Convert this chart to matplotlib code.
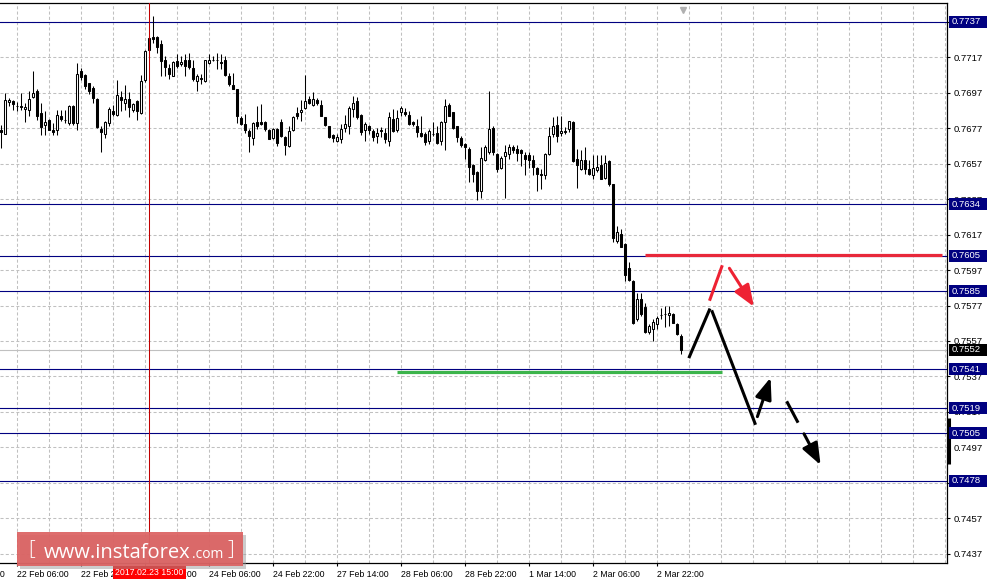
"""AUD/USD H1 chart with levels and forecast arrows."""
import numpy as np
import matplotlib
matplotlib.use('Agg')
from matplotlib import pyplot as plt
from matplotlib.patches import Rectangle
from matplotlib.transforms import blended_transform_factory

# H1 candles, prices in pips (price * 10000)
opens = [7676.2, 7673.8, 7691.9, 7692.3, 7689.5, 7689.5, 7687.9, 7687.6, 7694.7, 7698.3,
         7685.7, 7678.7, 7681.9, 7676.2, 7676.2, 7684.2, 7681.9, 7680.0, 7689.8, 7680.0,
         7709.1, 7706.8, 7702.3, 7700.0, 7693.8, 7676.8, 7673.6, 7680.0, 7686.6, 7684.7,
         7694.8, 7691.4, 7693.4, 7687.3, 7692.6, 7685.5, 7704.0, 7721.1, 7728.6, 7728.6,
         7724.3, 7715.8, 7711.1, 7706.5, 7714.9, 7713.0, 7715.5, 7715.8, 7711.1, 7703.6,
         7705.1, 7703.6, 7714.0, 7715.3, 7715.8, 7714.3, 7715.5, 7706.5, 7701.2, 7699.0,
         7683.0, 7679.3, 7675.5, 7671.7, 7680.6, 7680.6, 7680.8, 7676.1, 7671.7, 7676.4,
         7680.8, 7671.9, 7667.2, 7676.2, 7685.5, 7686.1, 7688.3, 7693.6, 7690.2, 7692.7,
         7690.2, 7683.2, 7678.1, 7673.2, 7670.0, 7671.0, 7677.0, 7678.5, 7687.9, 7692.5,
         7684.5, 7676.2, 7678.1, 7675.7, 7672.8, 7676.2, 7674.4, 7670.0, 7682.3, 7676.2,
         7686.4, 7686.4, 7684.5, 7680.4, 7678.5, 7674.4, 7673.8, 7670.1, 7673.8, 7674.4,
         7670.1, 7680.4, 7690.1, 7686.0, 7678.1, 7671.4, 7668.2, 7665.4, 7656.4, 7652.3,
         7641.5, 7658.9, 7663.5, 7677.0, 7662.6, 7654.6, 7661.3, 7662.6, 7666.3, 7665.4,
         7664.5, 7661.7, 7661.7, 7658.9, 7654.6, 7651.4, 7650.8, 7662.6, 7673.8, 7678.9,
         7674.4, 7674.8, 7676.6, 7680.7, 7659.8, 7654.2, 7658.9, 7653.8, 7650.5, 7653.3,
         7656.4, 7649.0, 7658.3, 7645.8, 7613.5, 7617.3, 7611.7, 7598.0, 7590.7, 7569.3,
         7580.4, 7576.3, 7562.2, 7564.0, 7566.5, 7571.9, 7572.1, 7571.5, 7572.1, 7566.5,
         7560.0]
highs = [7679.1, 7697.0, 7694.2, 7693.2, 7691.7, 7697.0, 7691.3, 7697.9, 7709.3, 7698.9,
         7691.3, 7686.6, 7682.3, 7680.0, 7687.6, 7687.6, 7687.6, 7690.4, 7690.4, 7714.0,
         7711.2, 7707.4, 7702.7, 7700.8, 7694.2, 7678.1, 7681.0, 7688.9, 7690.4, 7704.2,
         7698.0, 7701.4, 7697.7, 7691.3, 7693.0, 7707.0, 7721.2, 7729.0, 7740.2, 7729.0,
         7727.1, 7717.7, 7713.0, 7714.9, 7719.0, 7717.7, 7719.0, 7719.6, 7715.8, 7707.4,
         7707.4, 7715.8, 7718.7, 7717.7, 7719.6, 7718.7, 7717.7, 7708.3, 7708.3, 7699.3,
         7683.9, 7684.9, 7676.4, 7680.6, 7689.6, 7690.9, 7681.1, 7676.8, 7677.4, 7677.4,
         7682.3, 7672.8, 7678.5, 7684.2, 7688.9, 7692.7, 7707.2, 7695.1, 7697.4, 7694.0,
         7692.7, 7683.6, 7678.5, 7673.6, 7673.8, 7679.5, 7684.5, 7689.8, 7695.1, 7694.7,
         7684.9, 7680.4, 7678.9, 7676.6, 7677.0, 7677.8, 7677.0, 7686.4, 7687.9, 7687.6,
         7689.8, 7688.3, 7687.0, 7681.3, 7682.3, 7684.1, 7674.8, 7676.6, 7680.4, 7678.5,
         7681.3, 7693.8, 7691.2, 7686.3, 7678.5, 7672.9, 7668.6, 7666.3, 7657.0, 7652.7,
         7666.3, 7667.3, 7698.1, 7678.1, 7663.2, 7661.3, 7667.7, 7668.2, 7667.7, 7667.3,
         7665.4, 7663.5, 7663.5, 7662.0, 7655.1, 7654.2, 7663.2, 7677.6, 7683.2, 7684.1,
         7684.1, 7677.6, 7681.3, 7681.3, 7665.4, 7664.5, 7666.3, 7658.9, 7661.7, 7662.0,
         7661.7, 7661.7, 7658.9, 7645.8, 7622.0, 7620.4, 7612.1, 7601.3, 7591.2, 7584.1,
         7584.1, 7578.6, 7566.5, 7569.3, 7571.1, 7575.8, 7576.7, 7576.7, 7573.0, 7567.4,
         7560.9]
lows = [7665.9, 7673.8, 7689.5, 7687.6, 7686.6, 7687.6, 7680.4, 7684.2, 7694.2, 7681.9,
        7673.4, 7673.4, 7675.9, 7673.4, 7673.4, 7681.0, 7680.0, 7679.1, 7679.1, 7675.9,
        7704.5, 7698.9, 7696.1, 7691.3, 7677.2, 7663.4, 7671.5, 7678.1, 7683.8, 7684.2,
        7687.0, 7687.3, 7683.2, 7686.2, 7681.7, 7685.0, 7703.1, 7720.5, 7725.2, 7719.6,
        7706.5, 7706.5, 7704.6, 7706.5, 7711.1, 7712.1, 7706.5, 7710.6, 7703.6, 7698.0,
        7701.8, 7703.1, 7713.0, 7715.0, 7710.6, 7710.6, 7706.5, 7700.8, 7699.0, 7680.2,
        7678.7, 7674.6, 7663.7, 7667.4, 7676.4, 7678.9, 7675.5, 7670.8, 7671.2, 7667.1,
        7671.9, 7661.9, 7666.2, 7675.7, 7682.3, 7681.3, 7687.9, 7690.6, 7689.8, 7690.2,
        7683.8, 7678.5, 7671.3, 7669.1, 7669.1, 7668.7, 7674.7, 7673.8, 7683.2, 7682.3,
        7673.2, 7670.0, 7673.8, 7670.0, 7668.7, 7671.9, 7668.7, 7667.2, 7674.7, 7675.1,
        7684.2, 7684.2, 7678.9, 7678.5, 7671.9, 7672.0, 7667.3, 7668.2, 7672.9, 7668.2,
        7667.3, 7665.0, 7683.7, 7676.6, 7669.1, 7666.3, 7659.4, 7646.7, 7646.7, 7636.4,
        7637.4, 7658.3, 7662.6, 7662.0, 7652.3, 7653.8, 7637.7, 7659.8, 7663.2, 7658.3,
        7655.7, 7650.8, 7654.6, 7650.5, 7641.5, 7643.0, 7648.6, 7661.7, 7672.0, 7669.1,
        7672.9, 7673.8, 7674.8, 7657.9, 7643.4, 7653.3, 7651.4, 7650.5, 7648.2, 7652.3,
        7648.2, 7648.6, 7644.5, 7613.1, 7612.0, 7609.8, 7590.7, 7590.7, 7566.5, 7568.3,
        7571.1, 7561.5, 7560.9, 7557.2, 7563.7, 7569.3, 7564.6, 7565.5, 7567.0, 7560.3,
        7549.7]
closes = [7674.7, 7693.2, 7693.2, 7690.8, 7689.3, 7688.9, 7689.1, 7693.6, 7697.0, 7684.2,
          7677.6, 7680.6, 7676.2, 7674.7, 7684.4, 7682.3, 7681.7, 7689.5, 7680.0, 7707.9,
          7705.9, 7700.8, 7697.9, 7694.2, 7677.8, 7674.7, 7680.6, 7688.1, 7685.1, 7695.9,
          7693.0, 7693.5, 7688.9, 7690.7, 7686.8, 7703.5, 7720.6, 7728.0, 7727.5, 7723.0,
          7714.9, 7711.7, 7707.4, 7714.3, 7712.1, 7714.3, 7712.1, 7711.5, 7704.6, 7706.3,
          7705.0, 7715.3, 7715.3, 7715.8, 7715.6, 7714.1, 7707.2, 7701.8, 7699.3, 7683.9,
          7679.3, 7676.1, 7672.7, 7680.2, 7678.3, 7679.3, 7676.4, 7671.2, 7676.8, 7668.9,
          7672.8, 7667.6, 7675.7, 7683.2, 7684.2, 7687.4, 7692.5, 7691.0, 7693.6, 7691.2,
          7684.2, 7678.9, 7671.9, 7671.3, 7671.9, 7676.6, 7679.5, 7688.3, 7691.3, 7683.2,
          7675.1, 7679.5, 7676.2, 7671.9, 7674.2, 7675.5, 7671.0, 7683.2, 7675.7, 7682.7,
          7688.3, 7685.1, 7679.3, 7679.3, 7675.1, 7672.9, 7669.1, 7675.3, 7673.6, 7668.8,
          7680.7, 7689.3, 7684.1, 7677.0, 7672.0, 7667.7, 7666.3, 7655.1, 7651.4, 7641.5,
          7660.2, 7666.3, 7676.6, 7663.5, 7654.2, 7660.2, 7663.5, 7666.3, 7664.5, 7663.2,
          7663.2, 7659.8, 7658.9, 7655.1, 7651.4, 7650.5, 7662.6, 7672.9, 7678.1, 7672.9,
          7675.7, 7675.7, 7680.9, 7658.3, 7656.1, 7659.2, 7653.8, 7651.4, 7654.6, 7655.1,
          7648.6, 7657.6, 7645.8, 7615.3, 7618.6, 7610.2, 7594.4, 7591.6, 7567.4, 7580.8,
          7572.1, 7561.8, 7565.2, 7567.8, 7570.2, 7571.7, 7572.3, 7572.6, 7567.4, 7560.9,
          7552.0]

# time axis labels (bar index -> text)
label_bars = [-12, 4, 20, 36, 52, 68, 84, 100, 116, 132, 148, 164]
label_texts = ['21 Feb 14:00', '22 Feb 06:00', '22 Feb 22:00', '23 Feb 14:00',
               '24 Feb 06:00', '24 Feb 22:00', '27 Feb 14:00', '28 Feb 06:00',
               '28 Feb 22:00', '1 Mar 14:00', '2 Mar 06:00', '2 Mar 22:00']
cursor_bar = 37.1
cursor_text = '2017.02.23 15:00'

# horizontal levels
levels = [0.7737, 0.7634, 0.7605, 0.7585, 0.7541, 0.7519, 0.7505, 0.7478]
bid = 0.7552
scale_prices = [0.7437 + 0.0020 * k for k in range(16)]

# drawn objects: (bars, prices)
resistance_bars, resistance_prices = [161, 235.25], [0.76055, 0.76055]
support_bars, support_prices = [99, 180.25], [0.75395, 0.75395]
black_leg1 = ([172.1, 177.1], [0.75481, 0.75745])
black_leg2 = ([177.8, 188.5], [0.75735, 0.75105])
black_up = ([189.1, 192.4], [0.75143, 0.75363])
black_down_dashed = ([196.6, 204.9], [0.75222, 0.74870])
red_leg = ([177.25, 180.2], [0.75805, 0.75989])
red_down = ([182.1, 188.25], [0.75980, 0.75763])


def main():
    plt.rcParams['font.family'] = ['Liberation Sans', 'DejaVu Sans']
    plt.rcParams['lines.scale_dashes'] = False

    W, H = 990, 584
    fig = plt.figure(figsize=(W / 100, H / 100), dpi=100)
    ax = fig.add_axes([0, 21 / H, 947 / W, 560 / H])
    ax.set_xlim(-0.25, 236.5)
    ax.set_ylim(0.74317, 0.77477)

    o = np.array(opens) / 1e4
    h = np.array(highs) / 1e4
    lo = np.array(lows) / 1e4
    c = np.array(closes) / 1e4
    x = np.arange(len(o))

    # grid
    grid_x = np.arange(4, 237, 8)
    ax.vlines(grid_x, 0.74317, 0.77477, colors='#c0c0c0', lw=0.75,
              linestyles=(0, (2.2, 1.6)), zorder=1)
    ax.hlines(scale_prices, -0.25, 236.5, colors='#c0c0c0', lw=0.75,
              linestyles=(0, (2.2, 1.6)), zorder=1)

    ax.axhline(bid, color='#c0c0c0', lw=0.8, zorder=1.5)
    for v in levels:
        ax.axhline(v, color='#000080', lw=0.8, zorder=2)

    # candles
    up = c >= o
    ax.vlines(x, lo, h, color='black', lw=0.75, zorder=3)
    ax.bar(x[up], (c - o)[up], bottom=o[up], width=0.72, facecolor='white',
           edgecolor='black', lw=0.75, zorder=4)
    ax.bar(x[~up], (o - c)[~up], bottom=c[~up], width=0.72, color='black',
           edgecolor='black', lw=0.75, zorder=4)

    ax.axvline(cursor_bar, color='#c00000', lw=0.75, zorder=5)

    # drawn levels and forecast
    ax.plot(resistance_bars, resistance_prices, color='#e8283a', lw=2.3,
            solid_capstyle='butt', zorder=6)
    ax.plot(support_bars, support_prices, color='#3cb44b', lw=2.3,
            solid_capstyle='butt', zorder=6)
    ax.plot(*black_leg1, color='black', lw=2.2, zorder=6)
    ax.plot(*black_leg2, color='black', lw=2.2, zorder=6)
    ax.plot(*red_leg, color='#ee2233', lw=2.2, zorder=6)

    def arrow(path, color, dashed=False):
        (x0, x1), (y0, y1) = path
        if dashed:
            # first dash, then a gap, then the arrow
            xm, ym = x0 + 0.3 * (x1 - x0), y0 + 0.3 * (y1 - y0)
            ax.plot([x0, xm], [y0, ym], color=color, lw=2.2, zorder=6)
            x0, y0 = x0 + 0.5 * (x1 - x0), y0 + 0.5 * (y1 - y0)
        ax.annotate('', xy=(x1, y1), xytext=(x0, y0),
                    arrowprops=dict(arrowstyle='-|>,head_length=1.3,head_width=0.5',
                                    color=color, lw=2.2, shrinkA=0, shrinkB=0),
                    zorder=6)

    arrow(red_down, '#ee2233')
    arrow(black_up, 'black')
    arrow(black_down_dashed, 'black', dashed=True)

    # axes look
    for side in ['left']:
        ax.spines[side].set_visible(False)
    for side in ['top', 'right', 'bottom']:
        ax.spines[side].set_linewidth(0.9)

    ax.yaxis.tick_right()
    ax.set_yticks(scale_prices)
    ax.set_yticklabels([f'{v:.4f}' for v in scale_prices])
    ax.tick_params(axis='y', direction='out', length=2.5, width=0.8, pad=2,
                   labelsize=6.8)
    ax.set_xticks(label_bars[1:])
    ax.set_xticklabels(label_texts[1:])
    ax.tick_params(axis='x', direction='out', length=2.5, width=0.8, pad=2.5,
                   labelsize=6.3)
    for t in ax.get_xticklabels():
        t.set_ha('left')
    ax.annotate(label_texts[0], xy=(label_bars[0], 0), xycoords=('data', 'axes fraction'),
                xytext=(0, -5), textcoords='offset points', ha='left', va='top',
                fontsize=6.3, annotation_clip=False)

    # chart shift marker
    ax.plot([170.5], [0.77440], marker='v', ms=5, color='#b0b0b0', clip_on=False,
            zorder=7)

    # price boxes on the scale
    def price_box(v, fc):
        yp = ax.transData.transform((0, v))[1]
        fig.add_artist(Rectangle((949 / W, (yp - 6) / H), 38 / W, 12 / H,
                                 transform=fig.transFigure, fc=fc, ec='none',
                                 zorder=5))
        fig.text(952 / W, yp / H, f'{v:.4f}', color='white', fontsize=6.8,
                 ha='left', va='center', zorder=6)

    for v in levels:
        price_box(v, '#000080')
    price_box(bid, 'black')

    # thick mark on the scale
    tr = blended_transform_factory(ax.transAxes, ax.transData)
    ax.plot([1.002, 1.002], [0.74875, 0.75135], transform=tr, color='black',
            lw=2.2, clip_on=False, solid_capstyle='butt', zorder=7)

    # cursor time box
    xp = ax.transData.transform((cursor_bar, 0))[0]
    fig.text(xp / W, (H - 572.5) / H, cursor_text, ha='center', va='center',
             color='white', fontsize=6.3, zorder=8,
             bbox=dict(boxstyle='square,pad=0.25', fc='#ff0000', ec='none'))

    # watermark
    fig.add_artist(Rectangle((20 / W, (H - 569) / H), 226 / W, 34 / H,
                             transform=fig.transFigure, fc='#9a9a9a', ec='none',
                             alpha=0.5, zorder=9))
    fig.add_artist(Rectangle((17 / W, (H - 566) / H), 226 / W, 34 / H,
                             transform=fig.transFigure, fc='#dc6262', ec='none',
                             alpha=0.93, zorder=9))
    fig.text(28 / W, (H - 549) / H, '[', color='white', fontsize=15,
             family='Open Sans', fontweight='light', ha='left', va='center', zorder=10)
    fig.text(44 / W, (H - 557.5) / H, 'www.instaforex', color='white', fontsize=14.5,
             family='Open Sans', ha='left', va='baseline', zorder=10)
    fig.text(192 / W, (H - 557.5) / H, '.com', color='white', fontsize=10,
             family='Open Sans', ha='left', va='baseline', zorder=10)
    fig.text(227 / W, (H - 549) / H, ']', color='white', fontsize=15,
             family='Open Sans', fontweight='light', ha='left', va='center', zorder=10)

    fig.savefig('out.png', dpi=100)


if __name__ == '__main__':
    main()
